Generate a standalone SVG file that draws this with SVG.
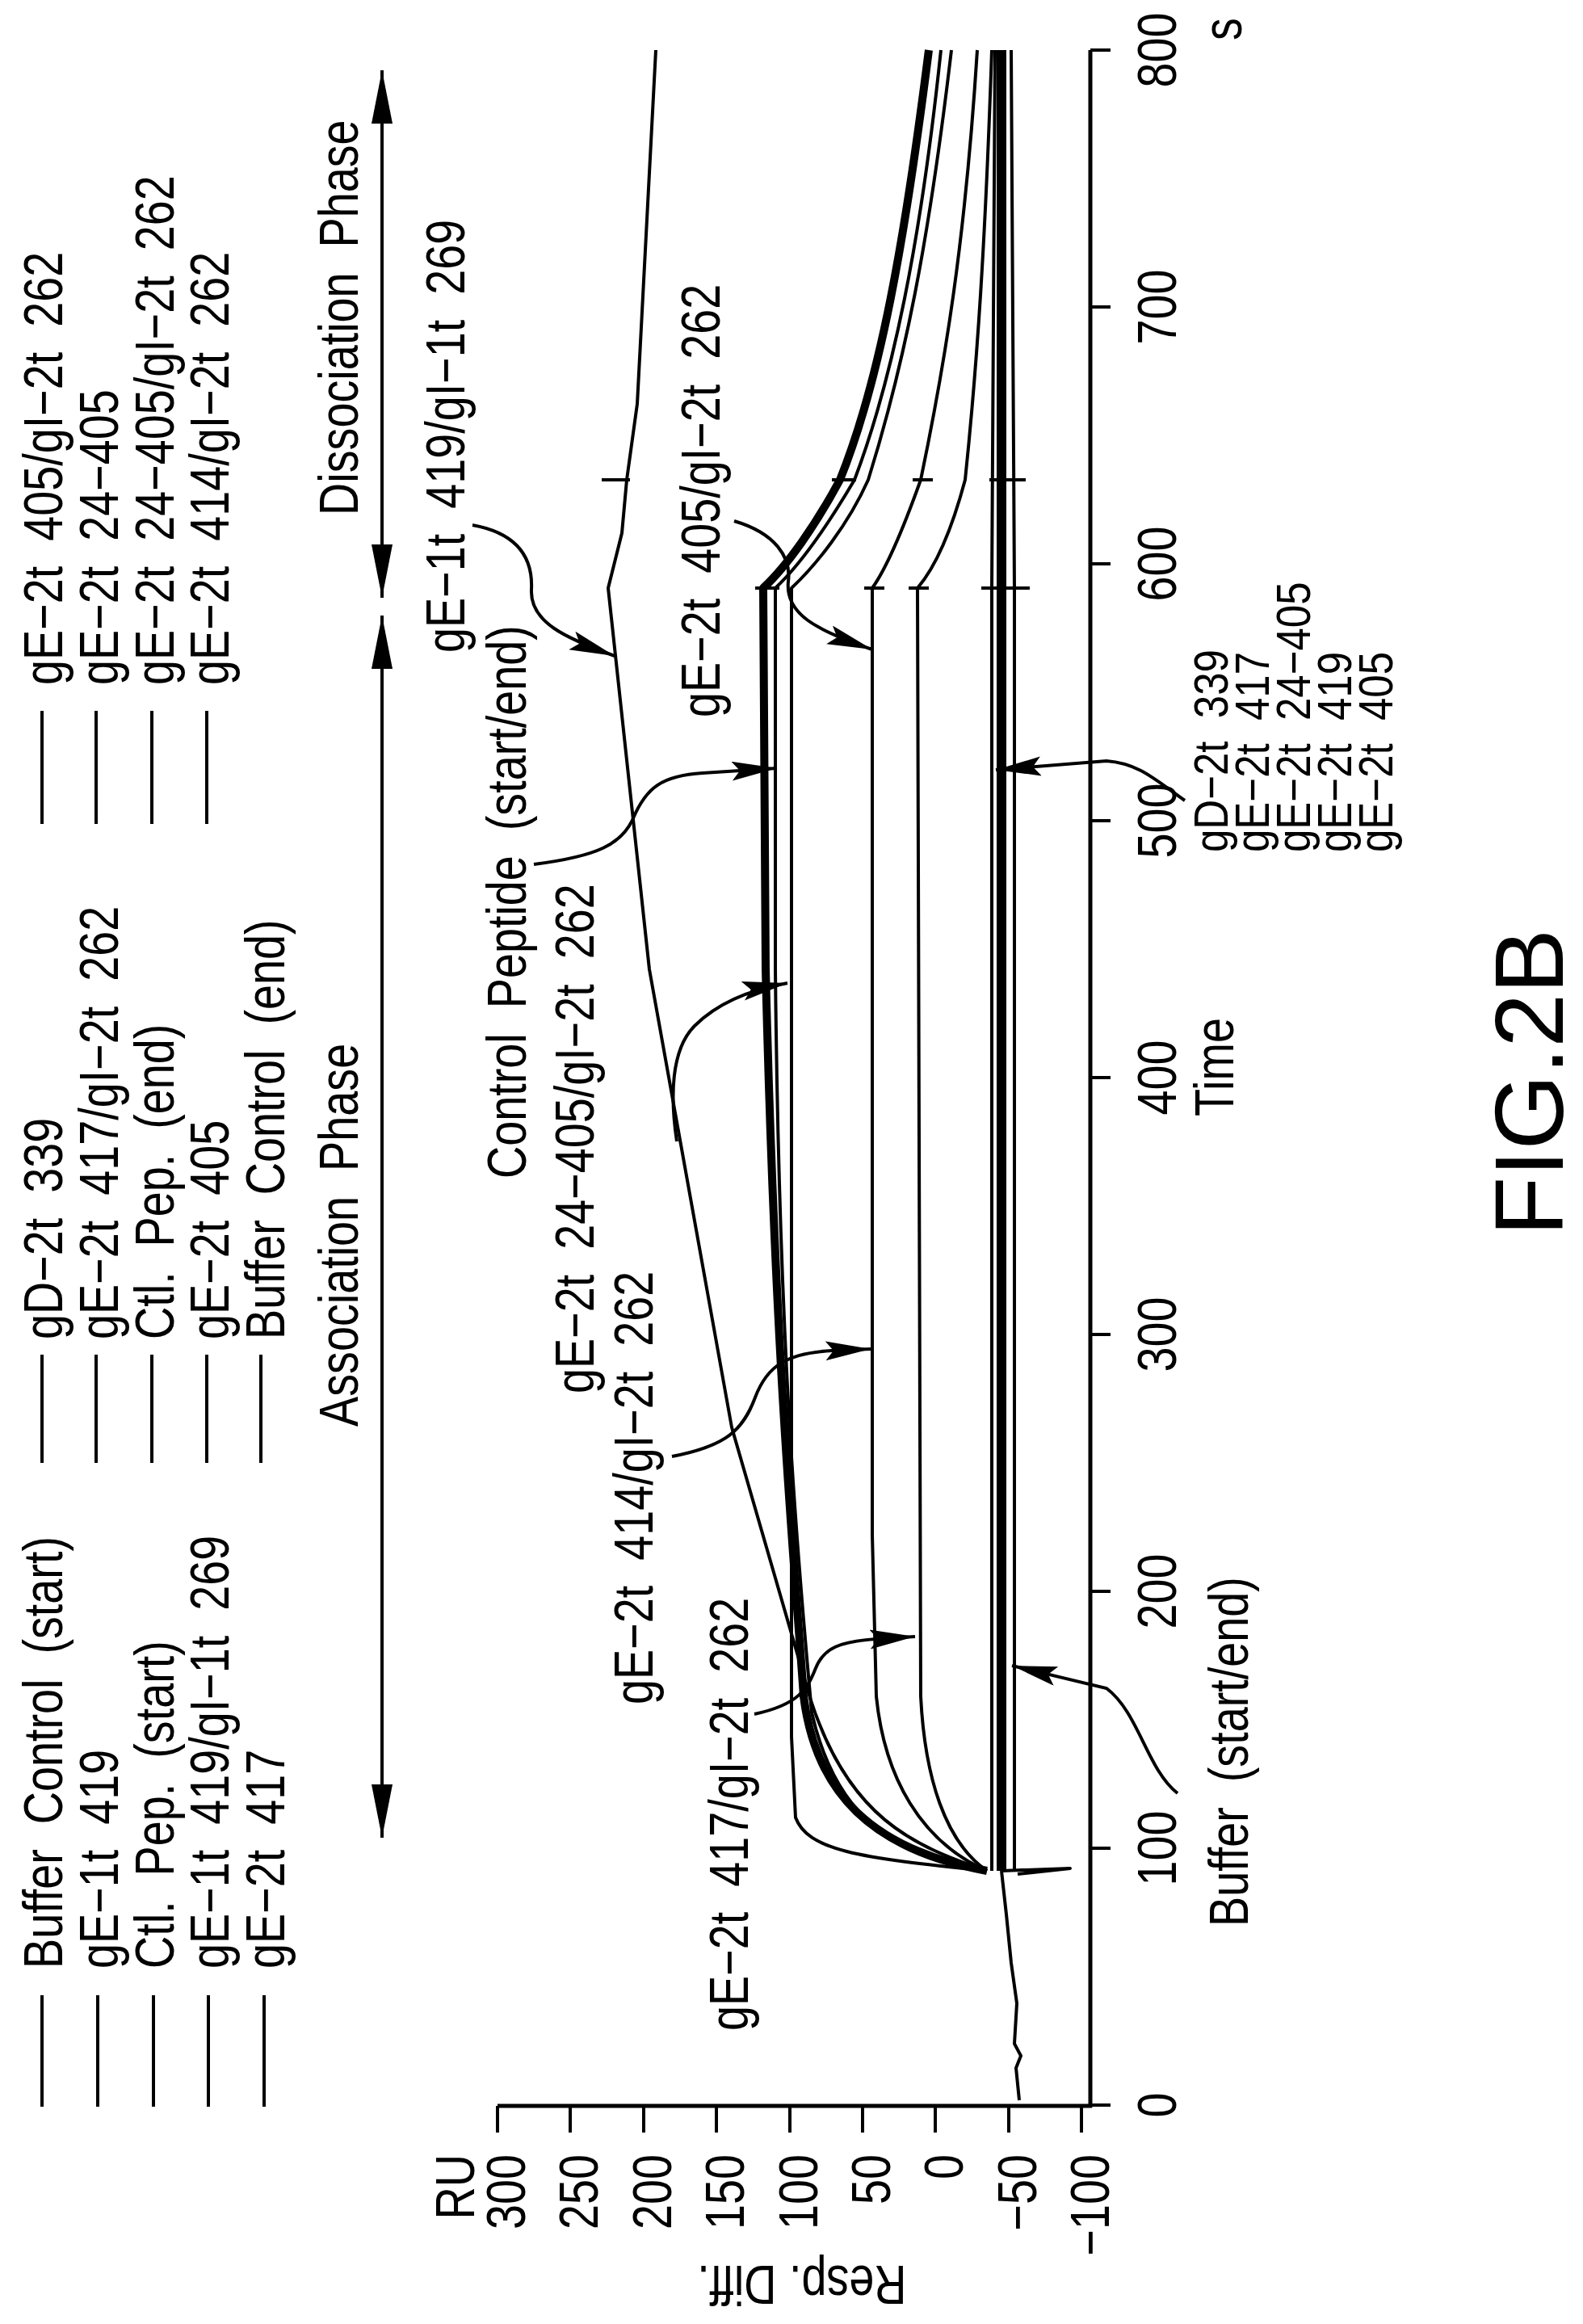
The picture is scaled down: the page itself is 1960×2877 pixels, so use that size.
<svg xmlns="http://www.w3.org/2000/svg" width="1960" height="2877" viewBox="0 0 1960 2877">
<style>
.t{font-family:"Liberation Sans",Arial,sans-serif;font-size:68px;fill:#000;white-space:pre}
.r{font-family:"Liberation Sans",Arial,sans-serif;font-size:60px;fill:#000;white-space:pre}
.n{font-family:"Liberation Sans",Arial,sans-serif;font-size:68px;fill:#000}
.ln{stroke:#000;stroke-width:4;fill:none}
.tr{stroke:#000;stroke-width:4;fill:none;stroke-linejoin:round}
.ld{stroke:#000;stroke-width:4;fill:none;marker-end:url(#ah)}
</style>
<defs>
<marker id="ah" markerUnits="userSpaceOnUse" markerWidth="60" markerHeight="30" refX="56" refY="12" orient="auto"><path d="M0,0 L56,12 L0,24 L10,12 Z" fill="#000"/></marker>
<marker id="ph" markerUnits="userSpaceOnUse" markerWidth="70" markerHeight="30" refX="66" refY="13" orient="auto"><path d="M0,0 L66,13 L0,26 Z" fill="#000"/></marker>
</defs>
<rect width="1960" height="2877" fill="#fff"/>

<g id="legend">
<g class="ln">
<line x1="52" y1="2470" x2="52" y2="2608"/><line x1="121" y1="2470" x2="121" y2="2608"/><line x1="190" y1="2470" x2="190" y2="2608"/><line x1="258" y1="2470" x2="258" y2="2608"/><line x1="327" y1="2470" x2="327" y2="2608"/>
<line x1="52" y1="1677" x2="52" y2="1811"/><line x1="119" y1="1677" x2="119" y2="1811"/><line x1="188" y1="1677" x2="188" y2="1811"/><line x1="256" y1="1677" x2="256" y2="1811"/><line x1="323" y1="1677" x2="323" y2="1811"/>
<line x1="52" y1="880" x2="52" y2="1020"/><line x1="119" y1="880" x2="119" y2="1020"/><line x1="188" y1="880" x2="188" y2="1020"/><line x1="256" y1="880" x2="256" y2="1020"/>
</g>
<text class="t" transform="translate(77,2437) rotate(-90) scale(0.82,1)">Buffer  Control  (start)</text>
<text class="t" transform="translate(146,2437) rotate(-90) scale(0.82,1)">gE−1t  419</text>
<text class="t" transform="translate(215,2437) rotate(-90) scale(0.82,1)">Ctl.  Pep.  (start)</text>
<text class="t" transform="translate(283,2437) rotate(-90) scale(0.82,1)">gE−1t  419/gI−1t  269</text>
<text class="t" transform="translate(352,2437) rotate(-90) scale(0.82,1)">gE−2t  417</text>
<text class="t" transform="translate(77,1658) rotate(-90) scale(0.82,1)">gD−2t  339</text>
<text class="t" transform="translate(146,1658) rotate(-90) scale(0.82,1)">gE−2t  417/gI−2t  262</text>
<text class="t" transform="translate(215,1658) rotate(-90) scale(0.82,1)">Ctl.  Pep.  (end)</text>
<text class="t" transform="translate(283,1658) rotate(-90) scale(0.82,1)">gE−2t  405</text>
<text class="t" transform="translate(352,1658) rotate(-90) scale(0.82,1)">Buffer  Control  (end)</text>
<text class="t" transform="translate(77,848) rotate(-90) scale(0.82,1)">gE−2t  405/gI−2t  262</text>
<text class="t" transform="translate(146,848) rotate(-90) scale(0.82,1)">gE−2t  24−405</text>
<text class="t" transform="translate(215,848) rotate(-90) scale(0.82,1)">gE−2t  24−405/gI−2t  262</text>
<text class="t" transform="translate(283,848) rotate(-90) scale(0.82,1)">gE−2t  414/gI−2t  262</text>
</g>

<g id="phases">
<line class="ln" x1="473" y1="1525" x2="473" y2="2275" marker-end="url(#ph)"/>
<line class="ln" x1="473" y1="1525" x2="473" y2="762" marker-end="url(#ph)"/>
<line class="ln" x1="473" y1="420" x2="473" y2="740" marker-end="url(#ph)"/>
<line class="ln" x1="473" y1="420" x2="473" y2="87" marker-end="url(#ph)"/>
<text class="t" transform="translate(443,1766) rotate(-90) scale(0.82,1)">Association  Phase</text>
<text class="t" transform="translate(443,638) rotate(-90) scale(0.82,1)">Dissociation  Phase</text>
</g>

<g id="axes">
<line class="ln" x1="616" y1="2607" x2="1352" y2="2607" style="stroke-width:5"/>
<line class="ln" x1="1350" y1="2609" x2="1350" y2="62" style="stroke-width:5"/>
<g class="ln">
<line x1="616" y1="2607" x2="616" y2="2640"/><line x1="706" y1="2607" x2="706" y2="2640"/><line x1="797" y1="2607" x2="797" y2="2640"/><line x1="887" y1="2607" x2="887" y2="2640"/><line x1="978" y1="2607" x2="978" y2="2640"/><line x1="1068" y1="2607" x2="1068" y2="2640"/><line x1="1158" y1="2607" x2="1158" y2="2640"/><line x1="1249" y1="2607" x2="1249" y2="2640"/><line x1="1339" y1="2607" x2="1339" y2="2640"/>
<line x1="1350" y1="2606" x2="1375" y2="2606"/><line x1="1350" y1="2288" x2="1375" y2="2288"/><line x1="1350" y1="1970" x2="1375" y2="1970"/><line x1="1350" y1="1652" x2="1375" y2="1652"/><line x1="1350" y1="1334" x2="1375" y2="1334"/><line x1="1350" y1="1016" x2="1375" y2="1016"/><line x1="1350" y1="698" x2="1375" y2="698"/><line x1="1350" y1="380" x2="1375" y2="380"/><line x1="1350" y1="62" x2="1375" y2="62"/>
</g>
<g class="n" text-anchor="end">
<text transform="translate(587,2667) rotate(-90) scale(0.82,1)">RU</text>
<text transform="translate(650,2667) rotate(-90) scale(0.82,1)">300</text>
<text transform="translate(740,2667) rotate(-90) scale(0.82,1)">250</text>
<text transform="translate(831,2667) rotate(-90) scale(0.82,1)">200</text>
<text transform="translate(921,2667) rotate(-90) scale(0.82,1)">150</text>
<text transform="translate(1012,2667) rotate(-90) scale(0.82,1)">100</text>
<text transform="translate(1102,2667) rotate(-90) scale(0.82,1)">50</text>
<text transform="translate(1192,2667) rotate(-90) scale(0.82,1)">0</text>
<text transform="translate(1283,2667) rotate(-90) scale(0.82,1)">−50</text>
<text transform="translate(1373,2667) rotate(-90) scale(0.82,1)">−100</text>
</g>
<g class="n" text-anchor="middle">
<text transform="translate(1456,2606) rotate(-90) scale(0.82,1)">0</text>
<text transform="translate(1456,2288) rotate(-90) scale(0.82,1)">100</text>
<text transform="translate(1456,1970) rotate(-90) scale(0.82,1)">200</text>
<text transform="translate(1456,1652) rotate(-90) scale(0.82,1)">300</text>
<text transform="translate(1456,1334) rotate(-90) scale(0.82,1)">400</text>
<text transform="translate(1456,1016) rotate(-90) scale(0.82,1)">500</text>
<text transform="translate(1456,698) rotate(-90) scale(0.82,1)">600</text>
<text transform="translate(1456,380) rotate(-90) scale(0.82,1)">700</text>
<text transform="translate(1456,62) rotate(-90) scale(0.82,1)">800</text>
<text transform="translate(1537,36) rotate(-90) scale(0.82,1)">s</text>
<text transform="translate(1527,1321) rotate(-90) scale(0.82,1)">Time</text>
</g>
<text class="n" text-anchor="middle" transform="translate(993,2805) rotate(180) scale(0.82,1)">Resp. Diff.</text>
</g>

<g id="traces">
<path class="tr" d="M1262,2600 L1258,2560 L1264,2545 L1256,2530 L1259,2480 L1252,2430 L1246,2370 L1240,2316"/>
<path class="tr" d="M1240,2316 L1325,2313 L1260,2320"/>
<path class="tr" d="M1222,2316 C1130,2285 1050,2250 1003,2102 L906,1767 L804,1200 L753,728 L770,660 L776,594 L789,500 L812,62"/>
<path class="tr" style="stroke-width:10" d="M1222,2316 C1080,2290 1010,2220 995,2100 C985,1950 960,1700 948,1200 L945,728 C975,700 1010,650 1040,594 C1090,470 1120,300 1150,62"/>
<path class="tr" d="M1222,2316 C1090,2300 1030,2230 1005,2120 C990,1950 965,1700 960,1200 L960,728 C990,700 1025,650 1058,594 C1105,470 1140,300 1165,62"/>
<path class="tr" d="M1222,2316 C1060,2300 1000,2290 985,2250 L980,2150 L980,728 C1010,700 1050,650 1075,594 C1120,450 1150,300 1178,62"/>
<path class="tr" d="M1222,2316 C1140,2280 1095,2200 1085,2100 L1080,1900 L1080,728 C1100,700 1120,650 1140,594 C1170,450 1195,300 1210,62"/>
<path class="tr" d="M1222,2316 C1170,2280 1145,2200 1140,2100 L1136,728 C1160,700 1180,650 1195,594 C1210,450 1220,300 1228,62"/>
<path class="tr" style="stroke-width:12" d="M1240,2316 L1240,62"/>
<path class="tr" d="M1228,2316 L1228,728 L1232,62"/>
<path class="tr" d="M1256,2316 L1256,728 L1252,62"/>
<g class="tr">
<path d="M935,728 L965,728 M1070,728 L1095,728 M1125,728 L1150,728 M1215,728 L1275,728"/>
<path d="M745,594 L780,594 M1030,594 L1060,594 M1130,594 L1155,594 M1225,594 L1270,594"/>
</g>
</g>

<g id="labels">
<text class="t" transform="translate(926,2514) rotate(-90) scale(0.82,1)">gE−2t  417/gI−2t  262</text>
<text class="t" transform="translate(808,2110) rotate(-90) scale(0.82,1)">gE−2t  414/gI−2t  262</text>
<text class="t" transform="translate(735,1725) rotate(-90) scale(0.82,1)">gE−2t  24−405/gI−2t  262</text>
<text class="t" transform="translate(651,1459) rotate(-90) scale(0.82,1)">Control  Peptide  (start/end)</text>
<text class="t" transform="translate(575,808) rotate(-90) scale(0.82,1)">gE−1t  419/gI−1t  269</text>
<text class="t" transform="translate(891,888) rotate(-90) scale(0.82,1)">gE−2t  405/gI−2t  262</text>
<text class="r" transform="translate(1520,1055) rotate(-90) scale(0.85,1)">gD−2t  339</text>
<text class="r" transform="translate(1571,1055) rotate(-90) scale(0.85,1)">gE−2t  417</text>
<text class="r" transform="translate(1622,1055) rotate(-90) scale(0.85,1)">gE−2t  24−405</text>
<text class="r" transform="translate(1673,1055) rotate(-90) scale(0.85,1)">gE−2t  419</text>
<text class="r" transform="translate(1724,1055) rotate(-90) scale(0.85,1)">gE−2t  405</text>
<text class="t" transform="translate(1545,2385) rotate(-90) scale(0.82,1)">Buffer  (start/end)</text>
<text class="n" text-anchor="middle" style="font-size:120px" transform="translate(1935,1340) rotate(-90)">FIG.2B</text>
</g>

<g id="connectors">
<path class="ld" d="M934,2122 C990,2110 1000,2090 1010,2065 C1020,2040 1040,2032 1085,2029 L1133,2026"/>
<path class="ld" d="M832,1803 C900,1790 920,1770 935,1730 C950,1690 975,1675 1030,1672 L1078,1670"/>
<path class="ld" d="M838,1413 C830,1360 830,1300 860,1270 C890,1240 930,1225 975,1217"/>
<path class="ld" d="M661,1070 C740,1060 770,1045 784,1013 C800,975 820,960 870,957 L962,951"/>
<path class="ld" d="M585,650 C640,660 660,690 658,730 C656,770 700,790 761,812"/>
<path class="ld" d="M909,645 C960,660 980,690 976,720 C972,760 1010,780 1080,804"/>
<path class="ld" d="M1467,991 C1430,965 1410,945 1370,942 L1233,953"/>
<path class="ld" d="M1458,2220 C1420,2190 1410,2120 1370,2090 L1253,2062"/>
</g>
</svg>
